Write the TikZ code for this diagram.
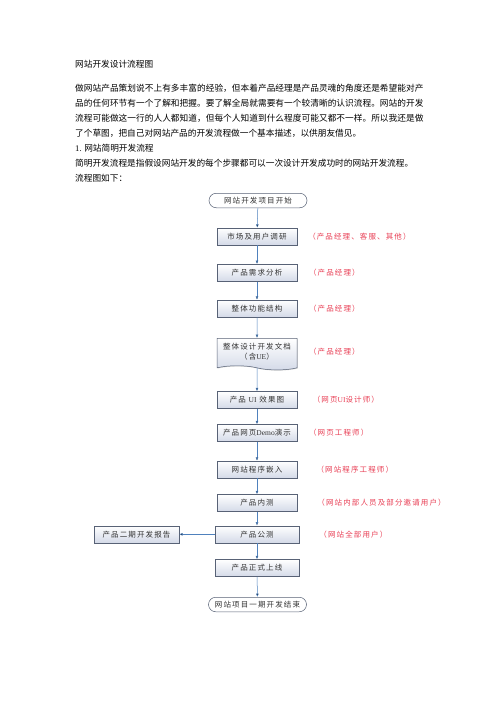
\documentclass[tikz,border=0pt]{standalone}
\usepackage{fontspec}
\setmainfont{Noto Sans CJK SC}
\newfontfamily\latinface{Liberation Serif}
\XeTeXlinebreaklocale "zh"
\XeTeXlinebreakskip=0pt plus 1pt
\usetikzlibrary{positioning, shapes.symbols, arrows.meta, shadows}
\definecolor{boxline}{RGB}{88,98,118}
\definecolor{boxfill}{RGB}{212,218,232}
\definecolor{flowblue}{RGB}{79,129,189}
\definecolor{rolered}{RGB}{232,62,84}

\begin{document}
\begin{tikzpicture}[x=1.2pt, y=-1.2pt, every node/.style={inner sep=0pt},
		body/.style={font=\fontsize{10.4pt}{18pt}\selectfont},
		chart/.style={font=\fontsize{9pt}{12pt}\selectfont\addfontfeature{LetterSpace=15}, text=black!80},
		stepbox/.style={chart, draw=boxline, line width=0.6pt, top color=white, bottom color=boxfill, minimum width=96pt, minimum height=20.4pt, drop shadow={shadow xshift=0.8pt, shadow yshift=-0.8pt, opacity=0.35}},
		ends/.style={chart, draw=boxline, line width=0.6pt, fill=white, rounded corners=8.7pt, minimum width=117.6pt, minimum height=17.4pt},
		docbox/.style={stepbox, tape, tape bend top=none, tape bend bottom=out and in, tape bend height=5pt, minimum height=38pt, align=center},
		role/.style={chart, text=rolered},
		flow/.style={draw=flowblue, line width=0.6pt, -{Latex[length=4pt, width=3.4pt]}}]
	\useasboundingbox (0,0) rectangle (496,702);
	% text above the chart
	\node[body, anchor=west] (title) at (75,64) {网站开发设计流程图};
	\node[body, anchor=north west, text width=418pt, align=justify] (intro) at (75,83.5) {做网站产品策划说不上有多丰富的经验，但本着产品经理是产品灵魂的角度还是希望能对产\linebreak 品的任何环节有一个了解和把握。要了解全局就需要有一个较清晰的认识流程。网站的开发\linebreak 流程可能做这一行的人人都知道，但每个人知道到什么程度可能又都不一样。所以我还是做\linebreak 了个草图，把自己对网站产品的开发流程做一个基本描述，以供朋友借见。\\ {\latinface 1.} 网站简明开发流程\\ 简明开发流程是指假设网站开发的每个步骤都可以一次设计开发成功时的网站开发流程。\\ 流程图如下：};
	% main column
	\node[ends] (start) at (258,200.5) {网站开发项目开始};
	\node[stepbox] (market) at (257,236.5) {市场及用户调研};
	\node[stepbox] (needs) at (257,272.8) {产品需求分析};
	\node[stepbox] (struct) at (257,308.5) {整体功能结构};
	\node[docbox] (spec) at (257,352) {整体设计开发文档\\（含{\latinface\addfontfeature{LetterSpace=0}UE}）};
	\node[stepbox] (uiview) at (257,400) {产品 {\latinface\addfontfeature{LetterSpace=0}UI} 效果图};
	\node[stepbox] (demo) at (257,433) {产品网页{\latinface\addfontfeature{LetterSpace=0}Demo}演示};
	\node[stepbox] (embed) at (257,469.5) {网站程序嵌入};
	\node[stepbox] (alpha) at (257,503) {产品内测};
	\node[stepbox, minimum width=100.8pt] (beta) at (257,534.3) {产品公测};
	\node[stepbox, minimum width=102pt] (report) at (136.5,534.3) {产品二期开发报告};
	\node[stepbox, minimum width=100.8pt] (launch) at (257,568) {产品正式上线};
	\node[ends] (finish) at (257.5,604.5) {网站项目一期开发结束};
	% who does it
	\node[role, right=13pt of market] (r1) {（产品经理、客服、其他）};
	\node[role, right=14pt of needs] (r2) {（产品经理）};
	\node[role, right=14pt of struct] (r3) {（产品经理）};
	\node[role, right=14pt of spec] (r4) {（产品经理）};
	\node[role, right=18.5pt of uiview] (r5) {（网页{\latinface\addfontfeature{LetterSpace=0}UI}设计师）};
	\node[role, right=14pt of demo] (r6) {（网页工程师）};
	\node[role, right=23pt of embed] (r7) {（网站程序工程师）};
	\node[role, right=24pt of alpha] (r8) {（网站内部人员及部分邀请用户）};
	\node[role, right=24pt of beta] (r9) {（网站全部用户）};
	% arrows
	\path[flow] (start) edge (market) (market) edge (needs) (needs) edge (struct) (struct) edge (spec)
		(spec) edge (uiview) (uiview) edge (demo) (demo) edge (embed) (embed) edge (alpha)
		(alpha) edge (beta) (beta) edge (report) (beta) edge (launch) (launch) edge (finish);
\end{tikzpicture}
\end{document}
